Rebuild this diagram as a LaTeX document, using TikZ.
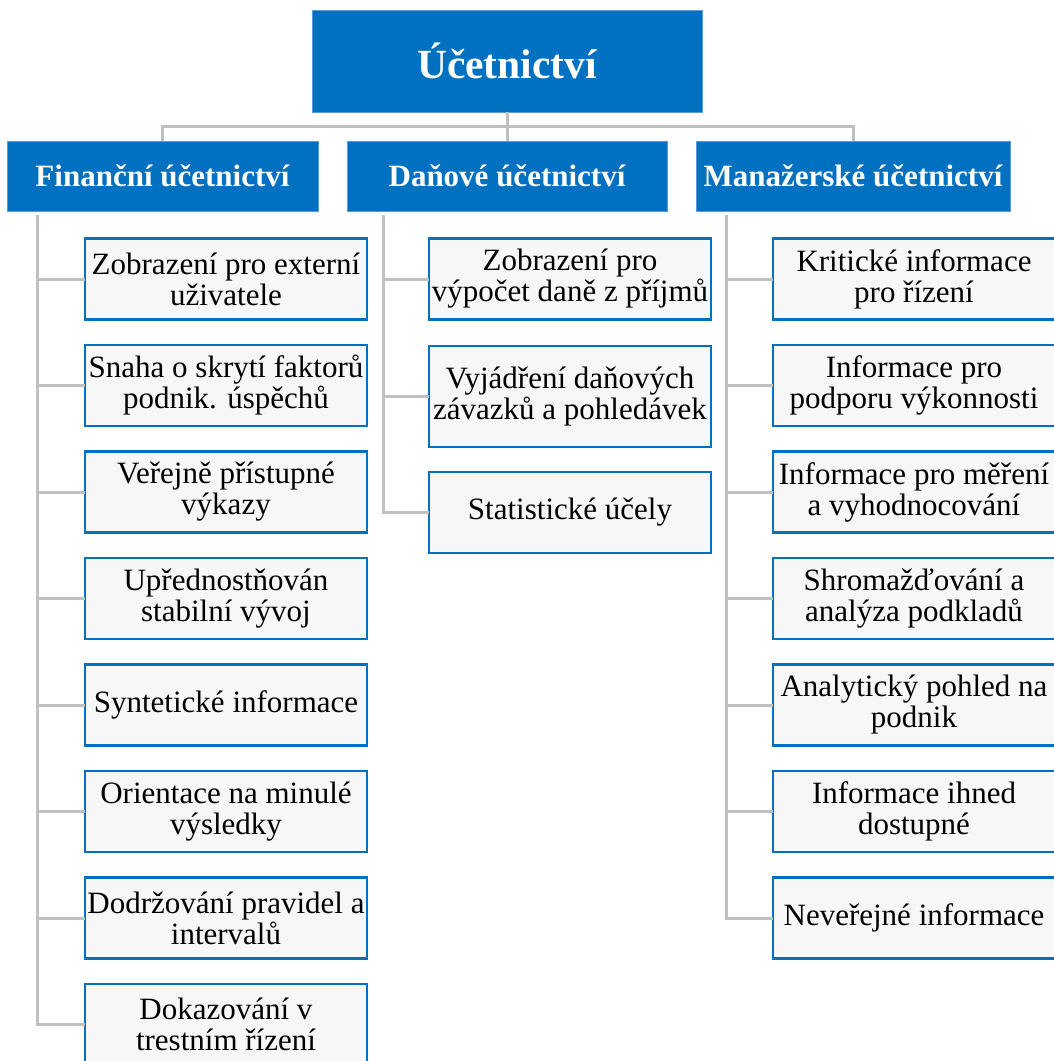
\documentclass[tikz,border=0pt]{standalone}
\usepackage{fontspec}
\setmainfont{Liberation Serif}
\usetikzlibrary{positioning}
\definecolor{hlavni}{RGB}{0,112,192}
\definecolor{okraj}{RGB}{90,155,215}
\definecolor{vypln}{RGB}{247,247,247}
\definecolor{cara}{RGB}{192,192,192}

\tikzset{
  koren/.style={fill=hlavni,draw=okraj,line width=1pt,text=white,font=\fontsize{41.5}{44}\selectfont\bfseries,
    minimum width=390pt,minimum height=102pt,inner sep=0pt,outer sep=0pt},
  oblast/.style={fill=hlavni,draw=okraj,line width=1pt,text=white,font=\fontsize{31}{33}\selectfont\bfseries,
    minimum height=70pt,inner sep=0pt,outer sep=0pt},
  polozka/.style={fill=vypln,draw=hlavni,line width=2.5pt,font=\fontsize{31}{31}\selectfont,align=center,
    minimum width=282pt,minimum height=81pt,inner sep=0pt,outer sep=0pt},
  spoj/.style={draw=cara,line width=3pt}
}

\begin{document}
\begin{tikzpicture}[x=1pt,y=-1pt]
\useasboundingbox (0,0) rectangle (1054,1061);

\node[koren] (top) at (507,61) {Účetnictví};

\node[oblast,minimum width=311pt] (fin) at (162.5,176) {Finanční účetnictví};
\node[oblast,minimum width=320pt] (dan) at (507,176) {Daňové účetnictví};
\node[oblast,minimum width=314pt] (man) at (853,176) {Manažerské účetnictví};

% financni
\foreach \i/\t in {1/{Zobrazení pro externí\\uživatele},
                   2/{Snaha o skrytí faktorů\\podnik. úspěchů},
                   3/{Veřejně přístupné\\výkazy},
                   4/{Upřednostňován\\stabilní vývoj},
                   5/{Syntetické informace},
                   6/{Orientace na minulé\\výsledky},
                   7/{Dodržování pravidel a\\intervalů},
                   8/{Dokazování v\\trestním řízení}} {
  \node[polozka] (f\i) at (226,{279+106.5*(\i-1)}) {\t};
}

% danove
\node[polozka] (d1) at (570,279) {Zobrazení pro\\výpočet daně z příjmů};
\node[polozka,minimum height=101pt] (d2) at (570,396.5) {Vyjádření daňových\\závazků a pohledávek};
\node[polozka] (d3) at (570,512.5) {Statistické účely};

% manazerske
\foreach \i/\t in {1/{Kritické informace\\pro řízení},
                   2/{Informace pro\\podporu výkonnosti},
                   3/{Informace pro měření\\a vyhodnocování},
                   4/{Shromažďování a\\analýza podkladů},
                   5/{Analytický pohled na\\podnik},
                   6/{Informace ihned\\dostupné},
                   7/{Neveřejné informace}} {
  \node[polozka] (m\i) at (914,{279+106.5*(\i-1)}) {\t};
}

% spojnice
\draw[spoj] (top.south) -- ++(0,14) -| (fin.north);
\draw[spoj] (top.south) -- ++(0,14) -| (man.north);
\draw[spoj] (top.south) -- (dan.north);

\coordinate (fspine) at ([xshift=30pt,yshift=-4pt]fin.south west);
\coordinate (dspine) at ([xshift=36pt,yshift=-4pt]dan.south west);
\coordinate (mspine) at ([xshift=30pt,yshift=-4pt]man.south west);
\foreach \i in {1,...,8} \draw[spoj] (fspine) |- (f\i.west);
\foreach \i in {1,2,3} \draw[spoj] (dspine) |- (d\i.west);
\foreach \i in {1,...,7} \draw[spoj] (mspine) |- (m\i.west);
\end{tikzpicture}
\end{document}
